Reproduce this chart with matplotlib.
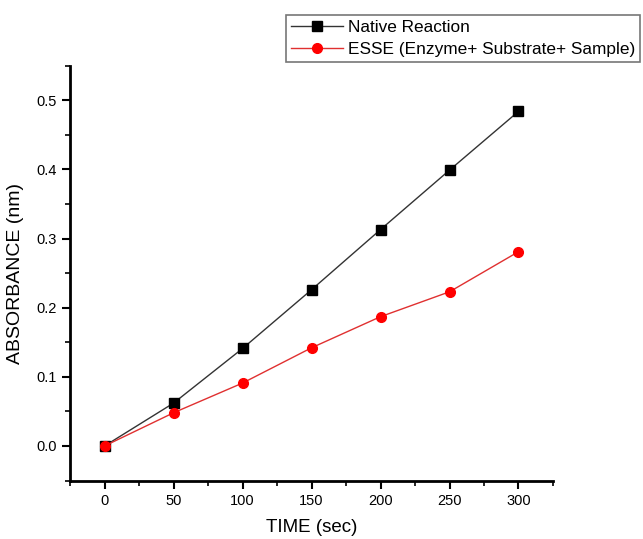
import numpy as np
import matplotlib
matplotlib.use('Agg')
import matplotlib.pyplot as plt
from matplotlib.ticker import MultipleLocator

plt.rcParams['font.family'] = ['Liberation Sans', 'DejaVu Sans']

# data
time_sec = [0, 50, 100, 150, 200, 250, 300]
native = [0.0, 0.062, 0.141, 0.226, 0.313, 0.399, 0.484]
esse = [0.0, 0.048, 0.091, 0.142, 0.187, 0.223, 0.281]
labels = ['Native Reaction', 'ESSE (Enzyme+ Substrate+ Sample)']

fig = plt.figure(figsize=(6.43, 5.39), dpi=100)
ax = fig.add_axes([0.109, 0.1085, 0.751, 0.7695])

ax.plot(time_sec, native, color='#333333', lw=1, marker='s', ms=6.5,
        mfc='black', mec='black', label=labels[0])
ax.plot(time_sec, esse, color='#e03030', lw=1, marker='o', ms=7,
        mfc='red', mec='red', label=labels[1])

ax.set_xlim(-25, 325)
ax.set_ylim(-0.05, 0.55)
ax.xaxis.set_major_locator(MultipleLocator(50))
ax.xaxis.set_minor_locator(MultipleLocator(25))
ax.yaxis.set_major_locator(MultipleLocator(0.1))
ax.yaxis.set_minor_locator(MultipleLocator(0.05))
ax.yaxis.set_major_formatter(matplotlib.ticker.FormatStrFormatter('%.1f'))

for s in ['top', 'right']:
  ax.spines[s].set_visible(False)
for s in ['left', 'bottom']:
  ax.spines[s].set_linewidth(2)
ax.tick_params(which='major', direction='out', length=6, width=1.5, labelsize=10.5)
ax.tick_params(which='minor', direction='out', length=3.5, width=1.2)

ax.set_xlabel('TIME (sec)', fontsize=13.5, labelpad=8)
ax.set_ylabel('ABSORBANCE (nm)', fontsize=14, labelpad=9)

leg = fig.legend(loc='upper right', bbox_to_anchor=(0.996, 0.973), fontsize=12.4,
                 frameon=True, fancybox=False, borderpad=0.3, labelspacing=0.4,
                 handlelength=3.0, handletextpad=0.3, borderaxespad=0)
leg.get_frame().set_edgecolor('#555555')
leg.get_frame().set_linewidth(1.2)

fig.savefig('out.png', dpi=100)
